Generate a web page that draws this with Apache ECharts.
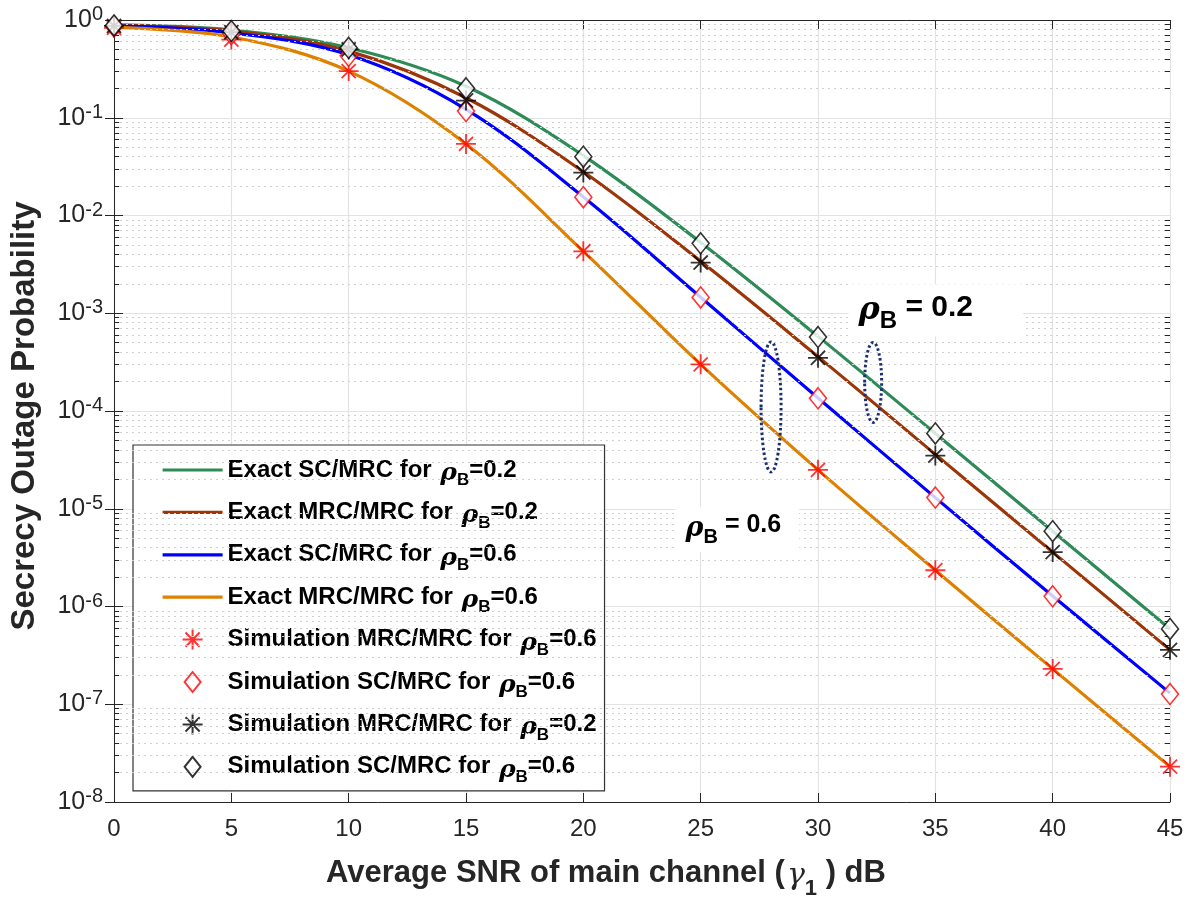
<!DOCTYPE html>
<html>
<head>
<meta charset="utf-8">
<script src="https://cdn.jsdelivr.net/npm/echarts@6/dist/echarts.min.js"></script>
<style>
html,body{margin:0;padding:0;background:#fff;}
#chart{width:1197px;height:905px;}
</style>
</head>
<body>
<div id="chart"></div>
<script>
// ---- data ----
const snr = [0, 5, 10, 15, 20, 25, 30, 35, 40, 45];
const exactSC02  = [0.89, 0.79, 0.52, 0.21, 0.041, 0.0053, 5.8e-4, 5.9e-5, 5.9e-6, 5.9e-7];
const exactMRC02 = [0.88, 0.77, 0.48, 0.16, 0.028, 0.0034, 3.6e-4, 3.6e-5, 3.6e-6, 3.6e-7];
const exactSC06  = [0.87, 0.74, 0.44, 0.122, 0.0155, 0.00146, 1.36e-4, 1.3e-5, 1.28e-6, 1.3e-7];
const exactMRC06 = [0.84, 0.67, 0.30, 0.054, 0.0043, 3.0e-4, 2.5e-5, 2.35e-6, 2.3e-7, 2.3e-8];
const simMRC06 = [0.83, 0.63, 0.30, 0.054, 0.0043, 3.0e-4, 2.5e-5, 2.35e-6, 2.3e-7, 2.3e-8];
const simSC06  = [0.86, 0.72, 0.43, 0.117, 0.0154, 0.00145, 1.35e-4, 1.3e-5, 1.27e-6, 1.27e-7];
const simMRC02 = [0.87, 0.75, 0.50, 0.15, 0.0275, 0.0033, 3.5e-4, 3.5e-5, 3.6e-6, 3.6e-7];
const simSC02  = [0.88, 0.77, 0.52, 0.20, 0.040, 0.0052, 5.7e-4, 5.9e-5, 5.9e-6, 5.9e-7];
const xTicks = [0, 5, 10, 15, 20, 25, 30, 35, 40, 45];
const yExponents = [0, -1, -2, -3, -4, -5, -6, -7, -8];
const legendOrder = ['eSC02', 'eMRC02', 'eSC06', 'eMRC06', 'sMRC06', 'sSC06', 'sMRC02', 'sSC02'];
const legendLabels = {
  eSC02: ['Exact SC/MRC for ', '0.2'],
  eMRC02: ['Exact MRC/MRC for ', '0.2'],
  eSC06: ['Exact SC/MRC for ', '0.6'],
  eMRC06: ['Exact MRC/MRC for ', '0.6'],
  sMRC06: ['Simulation MRC/MRC for ', '0.6'],
  sSC06: ['Simulation SC/MRC for ', '0.6'],
  sMRC02: ['Simulation MRC/MRC for ', '0.2'],
  sSC02: ['Simulation SC/MRC for ', '0.6']
};

const pair = arr => snr.map((x, i) => [x, arr[i]]);
const STAR = 'path://M0,-10L0,10M-10,0L10,0M-7.07,-7.07L7.07,7.07M-7.07,7.07L7.07,-7.07';
const DIAMOND_ICON = 'path://M0,-10L8,0L0,10L-8,0Z';
const FONT = 'Liberation Sans, Arial, Helvetica, sans-serif';
const TXT = '#262626';

// grid decorations (log-exponent space on a hidden linear axis): minor grid lines + minor ticks
const minorExp = [];
for (let e = -8; e < 0; e++) for (let k = 2; k <= 9; k++) minorExp.push(e + Math.log10(k));
const minorGrid = minorExp.map(v => ({ yAxis: v }));
const minorTicks = [];
minorExp.forEach(v => {
  minorTicks.push([{ coord: [0, v] }, { coord: [0.22, v] }]);
  minorTicks.push([{ coord: [44.78, v] }, { coord: [45, v] }]);
});

function lineSeries(name, data, color) {
  return {
    name, type: 'line', data: pair(data), smooth: 0.35, symbol: 'none', showSymbol: false,
    lineStyle: { color, width: 3.2 }, itemStyle: { color }, z: 3
  };
}
function scatterSeries(name, data, symbol, color, size) {
  const isStar = symbol === STAR;
  return {
    name, type: 'scatter', data: pair(data), symbol, symbolSize: size, z: 5,
    itemStyle: isStar ? { color: 'rgba(0,0,0,0)', borderColor: color, borderWidth: 1.8 }
                      : { color: '#ffffff', borderColor: color, borderWidth: 1.6 }
  };
}

const chart = echarts.init(document.getElementById('chart'));
const supRich = {
  b: { fontSize: 25, fontFamily: FONT, color: TXT, lineHeight: 25, verticalAlign: 'bottom' },
  e: { fontSize: 20, fontFamily: FONT, color: TXT, lineHeight: 20, padding: [0, 0, 8, 0], verticalAlign: 'bottom' }
};
const legRich = {
  t: { fontSize: 24, fontWeight: 'bold', fontFamily: FONT, color: '#000', lineHeight: 24, verticalAlign: 'top' },
  r: { fontSize: 25, fontStyle: 'italic', fontWeight: 'bold', fontFamily: 'DejaVu Serif, serif', color: '#000', lineHeight: 24, padding: [3, 0, 0, 2], verticalAlign: 'top' },
  s: { fontSize: 17, fontWeight: 'bold', fontFamily: FONT, color: '#000', lineHeight: 17, padding: [14, 0, 0, 0], verticalAlign: 'top' }
};
const legendItem = n => {
  if (n.charAt(0) === 'e') return { name: n, itemStyle: { opacity: 0 }, lineStyle: { width: 3.2 } };
  if (n === 'sSC06' || n === 'sSC02') return { name: n, icon: DIAMOND_ICON };
  return { name: n };
};

chart.setOption({
  animation: false,
  backgroundColor: '#ffffff',
  grid: { left: 113, right: 27, top: 20, bottom: 95.5, containLabel: false },
  xAxis: [{
    type: 'value', min: 0, max: 45, interval: 5, position: 'bottom',
    axisLine: { show: true, onZero: false, lineStyle: { color: TXT, width: 1 } },
    axisTick: { show: true, inside: true, length: 9, lineStyle: { color: TXT } },
    axisLabel: { color: TXT, fontSize: 24, fontFamily: FONT, margin: 15 },
    splitLine: { show: true, lineStyle: { color: '#e3e3e3', width: 1.2 } },
    name: '{t|Average SNR of main channel (}{g|γ}{s|1}{t| ) dB}',
    nameLocation: 'middle', nameGap: 56,
    nameTextStyle: {
      padding: [0, 72, 0, 0],
      rich: {
        t: { fontSize: 31, fontWeight: 'bold', fontFamily: FONT, color: TXT, lineHeight: 32, verticalAlign: 'top' },
        g: { fontSize: 30, fontStyle: 'italic', fontFamily: 'DejaVu Serif, serif', color: TXT, lineHeight: 32, padding: [3, 0, 0, 2], verticalAlign: 'top' },
        s: { fontSize: 22, fontWeight: 'bold', fontFamily: FONT, color: TXT, lineHeight: 22, padding: [20, 0, 0, 0], verticalAlign: 'top' }
      }
    }
  }, {
    type: 'value', min: 0, max: 45, interval: 5, position: 'top',
    axisLine: { show: true, onZero: false, lineStyle: { color: TXT, width: 1 } },
    axisTick: { show: true, inside: true, length: 9, lineStyle: { color: TXT } },
    axisLabel: { show: false }, splitLine: { show: false }
  }],
  yAxis: [{
    type: 'log', logBase: 10, min: 1e-8, max: 1, interval: 1,
    axisLine: { show: true, lineStyle: { color: TXT, width: 1 } },
    axisTick: { show: true, inside: true, length: 9, lineStyle: { color: TXT } },
    axisLabel: {
      margin: 11,
      formatter: v => { const e = Math.round(Math.log10(v)); return '{b|10}{e|' + e + '}'; },
      rich: supRich
    },
    splitLine: { show: true, lineStyle: { color: '#e3e3e3', width: 1.2 } },
    name: 'Secrecy Outage Probability', nameLocation: 'middle', nameGap: 73, nameRotate: 90,
    nameTextStyle: { fontSize: 33, fontWeight: 'bold', fontFamily: FONT, color: TXT, padding: [0, 10, 0, 0] }
  }, {
    type: 'log', logBase: 10, min: 1e-8, max: 1, interval: 1, position: 'right',
    axisLine: { show: true, lineStyle: { color: TXT, width: 1 } },
    axisTick: { show: true, inside: true, length: 9, lineStyle: { color: TXT } },
    axisLabel: { show: false }, splitLine: { show: false }
  }, {
    type: 'value', min: -8, max: 0, show: false
  }],
  legend: {
    orient: 'vertical', left: 133, top: 445,
    backgroundColor: '#ffffff', borderColor: '#333', borderWidth: 1.2,
    padding: [13, 8, 5, 28], itemGap: 11.4, itemWidth: 60, itemHeight: 20,
    data: legendOrder.map(legendItem),
    formatter: name => {
      const l = legendLabels[name];
      return '{t|' + l[0] + '}{r|ρ}{s|B}{t|=' + l[1] + '}';
    },
    textStyle: { rich: legRich }
  },
  series: [
    {
      name: 'gridDecor', type: 'line', data: [], xAxisIndex: 0, yAxisIndex: 2, silent: true,
      markLine: {
        silent: true, symbol: 'none', label: { show: false }, animation: false, precision: 10,
        lineStyle: { color: '#cfcfcf', type: [2, 4], width: 1.2 },
        data: minorGrid
      }
    },
    {
      name: 'tickDecor', type: 'line', data: [], xAxisIndex: 0, yAxisIndex: 2, silent: true,
      markLine: {
        silent: true, symbol: 'none', label: { show: false }, animation: false, precision: 10,
        lineStyle: { color: TXT, type: 'solid', width: 1 },
        data: minorTicks
      }
    },
    lineSeries('eSC02', exactSC02, '#2E8B57'),
    lineSeries('eMRC02', exactMRC02, '#9C3507'),
    lineSeries('eSC06', exactSC06, '#0000FF'),
    lineSeries('eMRC06', exactMRC06, '#DE8000'),
    scatterSeries('sMRC06', simMRC06, STAR, '#FF0000', 20),
    scatterSeries('sSC06', simSC06, 'diamond', '#FF0000', [17, 21]),
    scatterSeries('sMRC02', simMRC02, STAR, '#000000', 20),
    scatterSeries('sSC02', simSC02, 'diamond', '#000000', [17, 21])
  ]
});

// annotations positioned in data coordinates
function px(x, y) { return chart.convertToPixel({ xAxisIndex: 0, yAxisIndex: 0 }, [x, y]); }
const NAVY = '#1b2f6e';
const e1 = px(28.0, 1.1e-4), e2 = px(32.35, 1.96e-4);
const t1 = px(31.3, 1.98e-3), t2 = px(23.93, 1.04e-5);
const annRich = size => ({
  r: { fontSize: size + 2, fontStyle: 'italic', fontWeight: 'bold', fontFamily: 'DejaVu Serif, serif', color: NAVY, lineHeight: size, verticalAlign: 'top', padding: [2, 0, 0, 0] },
  s: { fontSize: Math.round(size * 0.8), fontWeight: 'bold', fontFamily: FONT, color: NAVY, lineHeight: Math.round(size * 0.8), padding: [Math.round(size * 0.55), 0, 0, 0], verticalAlign: 'top' },
  t: { fontSize: size, fontWeight: 'bold', fontFamily: FONT, color: NAVY, lineHeight: size, verticalAlign: 'top' }
});
chart.setOption({
  graphic: [
    { type: 'ellipse', shape: { cx: e1[0], cy: e1[1], rx: 10, ry: 65 }, style: { fill: 'none', stroke: NAVY, lineWidth: 3, lineDash: [2.5, 2.5] }, z: 10 },
    { type: 'ellipse', shape: { cx: e2[0], cy: e2[1], rx: 8.5, ry: 40 }, style: { fill: 'none', stroke: NAVY, lineWidth: 3, lineDash: [2.5, 2.5] }, z: 10 },
    { type: 'text', x: t1[0], y: t1[1], z: 10,
      style: { text: '{r|ρ}{s|B}{t| = 0.2}', rich: annRich(30), backgroundColor: '#fff', padding: [8, 50, 14, 10] } },
    { type: 'text', x: t2[0], y: t2[1], z: 10,
      style: { text: '{r|ρ}{s|B}{t| = 0.6}', rich: annRich(25), backgroundColor: '#fff', padding: [6, 18, 14, 10] } }
  ]
});
</script>
</body>
</html>
